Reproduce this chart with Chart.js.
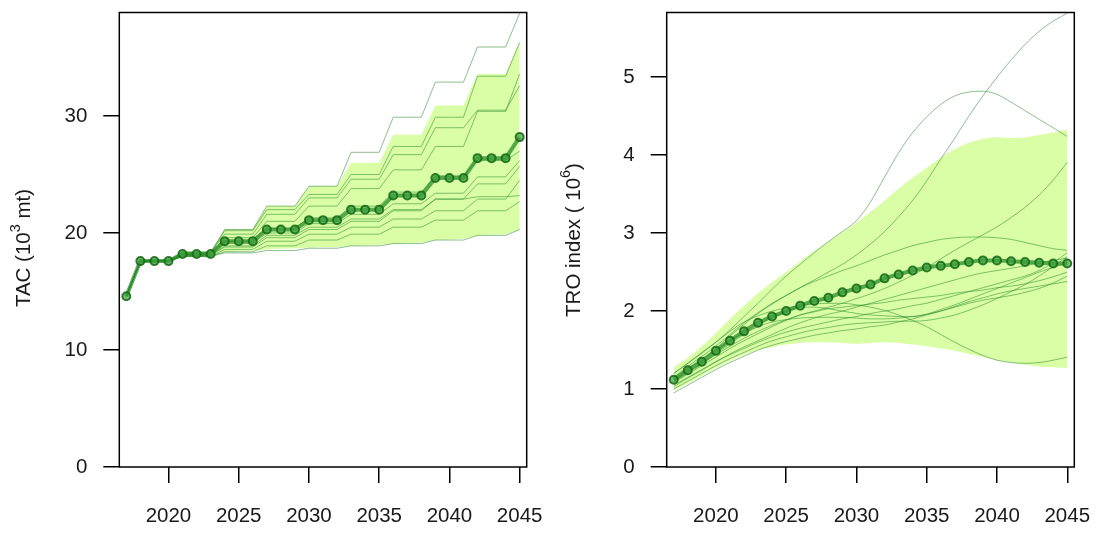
<!DOCTYPE html>
<html>
<head>
  <title>TAC and TRO index projections</title>
  <script src="https://cdn.jsdelivr.net/npm/chart.js"></script>
  <style>
    body { margin: 0; background: #fff; }
    .wrap { display: flex; width: 1100px; height: 534px; }
    .panel { position: relative; width: 550px; height: 534px; }
  </style>
</head>
<body>
  <div class="wrap">
    <div class="panel"><canvas id="tacChart"></canvas></div>
    <div class="panel"><canvas id="troChart"></canvas></div>
  </div>

  <script>
    const years = [2017, 2018, 2019, 2020, 2021, 2022, 2023, 2024, 2025, 2026,
                   2027, 2028, 2029, 2030, 2031, 2032, 2033, 2034, 2035, 2036,
                   2037, 2038, 2039, 2040, 2041, 2042, 2043, 2044, 2045];
    const xTicks = [2020, 2025, 2030, 2035, 2040, 2045];

    // left panel: TAC (10^3 mt)
    const tacTicks = [0, 10, 20, 30];
    const tacMedian = [14.6, 17.6, 17.6, 17.6, 18.2, 18.2, 18.2, 19.3, 19.3, 19.3, 20.3, 20.3, 20.3, 21.1, 21.1, 21.1, 22.0, 22.0, 22.0, 23.2, 23.2, 23.2, 24.7, 24.7, 24.7, 26.4, 26.4, 26.4, 28.2];
    const tacUpper = [14.6, 17.6, 17.6, 17.6, 18.4, 18.4, 18.4, 20.3, 20.3, 20.3, 22.3, 22.3, 22.3, 24.0, 24.0, 24.0, 26.0, 26.0, 26.0, 28.4, 28.4, 28.4, 30.9, 30.9, 30.9, 33.6, 33.6, 33.6, 36.35];
    const tacLower = [14.6, 17.6, 17.6, 17.6, 18.0, 18.0, 18.0, 18.4, 18.45, 18.5, 18.6, 18.65, 18.7, 18.75, 18.8, 18.8, 18.9, 18.95, 19.0, 19.1, 19.15, 19.2, 19.4, 19.45, 19.5, 19.8, 19.85, 19.9, 20.3];
    const tacSims = [
      [14.6, 17.6, 17.6, 17.6, 18.2, 18.2, 18.2, 20.3, 20.3, 20.3, 22.3, 22.3, 22.3, 24.0, 24.0, 24.0, 26.9, 26.9, 26.9, 29.9, 29.9, 29.9, 32.9, 32.9, 32.9, 35.9, 35.9, 35.9, 38.8],
      [14.6, 17.6, 17.6, 17.6, 18.4, 18.4, 18.4, 20.2, 20.2, 20.2, 22.0, 22.0, 22.0, 23.3, 23.3, 23.3, 25.0, 25.0, 25.0, 27.4, 27.4, 27.4, 29.9, 29.9, 29.9, 33.4, 33.4, 33.4, 36.3],
      [14.6, 17.6, 17.6, 17.6, 18.3, 18.3, 18.3, 19.9, 19.9, 19.9, 21.6, 21.6, 21.6, 23.0, 23.0, 23.0, 24.6, 24.6, 24.6, 26.7, 26.7, 26.7, 29.0, 29.0, 29.0, 30.5, 30.5, 30.5, 32.6],
      [14.6, 17.6, 17.6, 17.6, 18.2, 18.2, 18.2, 19.6, 19.6, 19.6, 21.0, 21.0, 21.0, 22.3, 22.3, 22.3, 23.8, 23.8, 23.8, 25.4, 25.4, 25.4, 27.4, 27.4, 27.4, 30.4, 30.4, 30.4, 33.6],
      [14.6, 17.6, 17.6, 17.6, 18.2, 18.2, 18.2, 19.3, 19.3, 19.3, 20.4, 20.4, 20.4, 21.3, 21.3, 21.3, 22.3, 22.3, 22.3, 23.5, 23.5, 23.5, 24.9, 24.9, 24.9, 26.2, 26.2, 26.2, 27.0],
      [14.6, 17.6, 17.6, 17.6, 18.2, 18.2, 18.2, 19.1, 19.1, 19.1, 20.0, 20.0, 20.0, 20.8, 20.8, 20.8, 21.6, 21.6, 21.6, 22.5, 22.5, 22.5, 23.4, 23.4, 23.4, 24.8, 24.8, 24.8, 26.2],
      [14.6, 17.6, 17.6, 17.6, 18.1, 18.1, 18.1, 18.9, 18.9, 18.9, 19.8, 19.8, 19.8, 20.5, 20.5, 20.5, 21.2, 21.2, 21.2, 22.0, 22.0, 22.0, 22.9, 22.9, 22.9, 24.2, 24.2, 24.2, 25.7],
      [14.6, 17.6, 17.6, 17.6, 18.1, 18.1, 18.1, 18.8, 18.8, 18.8, 19.6, 19.6, 19.6, 20.3, 20.3, 20.3, 21.0, 21.0, 21.0, 21.9, 21.9, 21.9, 22.9, 22.9, 22.9, 23.1, 23.1, 23.1, 23.2],
      [14.6, 17.6, 17.6, 17.6, 18.0, 18.0, 18.0, 18.6, 18.6, 18.6, 19.3, 19.3, 19.3, 19.9, 19.9, 19.9, 20.5, 20.5, 20.5, 21.2, 21.2, 21.2, 21.9, 21.9, 21.9, 22.9, 22.9, 22.9, 24.5],
      [14.6, 17.6, 17.6, 17.6, 18.0, 18.0, 18.0, 18.4, 18.4, 18.4, 18.9, 18.9, 18.9, 19.4, 19.4, 19.4, 19.9, 19.9, 19.9, 20.5, 20.5, 20.5, 21.1, 21.1, 21.1, 21.9, 21.9, 21.9, 22.7],
      [14.6, 17.6, 17.6, 17.6, 18.0, 18.0, 18.0, 18.3, 18.3, 18.3, 18.5, 18.5, 18.5, 18.7, 18.7, 18.7, 18.9, 18.9, 18.9, 19.1, 19.1, 19.1, 19.4, 19.4, 19.4, 19.8, 19.8, 19.8, 20.3]
    ];

    // right panel: TRO index (10^6)
    const troTicks = [0, 1, 2, 3, 4, 5];
    const troMedian = [1.12, 1.24, 1.35, 1.49, 1.62, 1.74, 1.85, 1.93, 2.00, 2.07, 2.13, 2.17, 2.24, 2.29, 2.34, 2.42, 2.47, 2.52, 2.56, 2.58, 2.60, 2.63, 2.65, 2.65, 2.64, 2.63, 2.62, 2.61, 2.61];
    const troUpper = [1.28, 1.40, 1.55, 1.72, 1.90, 2.07, 2.23, 2.37, 2.50, 2.64, 2.77, 2.89, 3.01, 3.13, 3.27, 3.42, 3.57, 3.71, 3.84, 3.97, 4.08, 4.16, 4.21, 4.23, 4.22, 4.23, 4.26, 4.29, 4.33];
    const troLower = [0.98, 1.07, 1.17, 1.27, 1.36, 1.44, 1.50, 1.54, 1.57, 1.59, 1.60, 1.60, 1.59, 1.58, 1.59, 1.60, 1.59, 1.57, 1.55, 1.52, 1.49, 1.45, 1.41, 1.37, 1.34, 1.31, 1.29, 1.28, 1.27];
    const troSims = [
      [1.20, 1.33, 1.46, 1.60, 1.76, 1.93, 2.10, 2.28, 2.45, 2.60, 2.75, 2.89, 3.02, 3.16, 3.40, 3.72, 4.03, 4.29, 4.49, 4.65, 4.76, 4.81, 4.82, 4.78, 4.68, 4.57, 4.46, 4.35, 4.24],
      [1.15, 1.27, 1.39, 1.52, 1.68, 1.83, 1.97, 2.09, 2.20, 2.30, 2.40, 2.50, 2.60, 2.72, 2.86, 3.02, 3.21, 3.42, 3.67, 3.95, 4.22, 4.50, 4.76, 5.00, 5.22, 5.42, 5.59, 5.72, 5.82],
      [1.10, 1.20, 1.32, 1.44, 1.55, 1.65, 1.74, 1.82, 1.89, 1.95, 2.00, 2.05, 2.10, 2.16, 2.22, 2.29, 2.37, 2.46, 2.56, 2.67, 2.78, 2.88, 2.98, 3.08, 3.20, 3.33, 3.49, 3.68, 3.91],
      [1.15, 1.29, 1.42, 1.55, 1.70, 1.85, 1.98, 2.10, 2.20, 2.30, 2.38, 2.45, 2.52, 2.58, 2.65, 2.72, 2.78, 2.84, 2.88, 2.92, 2.94, 2.95, 2.95, 2.94, 2.92, 2.88, 2.84, 2.80, 2.78],
      [1.20, 1.33, 1.47, 1.60, 1.74, 1.86, 1.94, 2.00, 2.04, 2.07, 2.09, 2.10, 2.10, 2.08, 2.05, 2.01, 1.95, 1.88, 1.80, 1.70, 1.60, 1.51, 1.43, 1.37, 1.34, 1.33, 1.34, 1.37, 1.41],
      [1.05, 1.15, 1.25, 1.35, 1.44, 1.52, 1.60, 1.67, 1.73, 1.78, 1.82, 1.86, 1.90, 1.93, 1.97, 2.00, 2.03, 2.07, 2.10, 2.15, 2.20, 2.25, 2.30, 2.35, 2.40, 2.45, 2.52, 2.62, 2.75],
      [1.00, 1.10, 1.20, 1.30, 1.39, 1.47, 1.55, 1.62, 1.67, 1.72, 1.76, 1.79, 1.82, 1.84, 1.85, 1.86, 1.87, 1.87, 1.88, 1.91, 1.95, 2.01, 2.08, 2.16, 2.25, 2.34, 2.45, 2.57, 2.70],
      [1.08, 1.19, 1.30, 1.41, 1.52, 1.62, 1.71, 1.80, 1.88, 1.95, 1.99, 2.03, 2.05, 2.07, 2.09, 2.11, 2.14, 2.16, 2.18, 2.20, 2.23, 2.25, 2.27, 2.30, 2.32, 2.35, 2.39, 2.44, 2.50],
      [1.10, 1.22, 1.33, 1.45, 1.58, 1.70, 1.81, 1.92, 2.00, 2.05, 2.05, 2.03, 2.00, 1.97, 1.95, 1.94, 1.93, 1.93, 1.96, 2.00, 2.06, 2.12, 2.17, 2.22, 2.26, 2.29, 2.32, 2.35, 2.38],
      [1.12, 1.25, 1.38, 1.50, 1.62, 1.72, 1.80, 1.86, 1.89, 1.91, 1.92, 1.92, 1.92, 1.91, 1.90, 1.90, 1.91, 1.93, 1.96, 2.02, 2.08, 2.15, 2.22, 2.29, 2.36, 2.43, 2.50, 2.56, 2.62],
      [0.95, 1.05, 1.15, 1.25, 1.34, 1.42, 1.50, 1.56, 1.61, 1.65, 1.69, 1.72, 1.75, 1.77, 1.80, 1.82, 1.86, 1.90, 1.95, 2.00, 2.05, 2.10, 2.14, 2.17, 2.20, 2.24, 2.29, 2.36, 2.45],
      [1.03, 1.14, 1.24, 1.35, 1.45, 1.54, 1.62, 1.70, 1.78, 1.85, 1.91, 1.96, 2.00, 2.05, 2.10, 2.15, 2.20, 2.25, 2.30, 2.35, 2.40, 2.45, 2.49, 2.52, 2.55, 2.58, 2.62, 2.65, 2.68]
    ];

    const FONT = '"Liberation Sans", Arial, sans-serif';
    const INK = '#1a1a1a';
    const BAND = 'rgb(218, 254, 166)';
    const SIM = 'rgba(45, 140, 45, 0.55)';

    const toXY = arr => arr.map((v, i) => ({ x: years[i], y: v }));

    // box round the plot area
    const frame = {
      id: 'frame',
      afterDatasetsDraw(chart) {
        const { ctx, chartArea: a } = chart;
        ctx.save();
        ctx.strokeStyle = '#000';
        ctx.lineWidth = 1.5;
        ctx.strokeRect(a.left, a.top, a.right - a.left, a.bottom - a.top);
        ctx.restore();
      }
    };

    // rotated y title with a superscript part
    const axisTitle = {
      id: 'axisTitle',
      afterDraw(chart, args, opts) {
        const ctx = chart.ctx;
        const big = '20.5px ' + FONT;
        const small = '14.5px ' + FONT;
        ctx.save();
        ctx.translate(opts.x, opts.y);
        ctx.rotate(-Math.PI / 2);
        ctx.fillStyle = INK;
        ctx.textBaseline = 'middle';
        ctx.textAlign = 'left';
        ctx.font = big;
        const w1 = ctx.measureText(opts.before).width;
        const w3 = ctx.measureText(opts.after).width;
        ctx.font = small;
        const w2 = ctx.measureText(opts.sup).width;
        let x = -(w1 + w2 + w3) / 2;
        ctx.font = big;
        ctx.fillText(opts.before, x, 0);
        x += w1;
        ctx.font = small;
        ctx.fillText(opts.sup, x, -8);
        x += w2;
        ctx.font = big;
        ctx.fillText(opts.after, x, 0);
        ctx.restore();
      }
    };

    const createChart = (ctx, c) => {
      const lineOpts = {
        pointRadius: 0,
        fill: false,
        tension: c.smooth ? 0.4 : 0,
        cubicInterpolationMode: c.smooth ? 'monotone' : 'default'
      };
      const datasets = [
        { ...lineOpts, data: toXY(c.upper), fill: '+1', backgroundColor: BAND, borderColor: 'rgba(0,0,0,0)', borderWidth: 1, order: 30 },
        { ...lineOpts, data: toXY(c.lower), borderColor: 'rgba(0,0,0,0)', borderWidth: 1, order: 30 },
        ...c.sims.map(s => ({ ...lineOpts, data: toXY(s), borderColor: SIM, borderWidth: 1, order: 20 })),
        {
          ...lineOpts,
          data: toXY(c.median),
          borderColor: 'rgba(40, 140, 40, 0.75)',
          borderWidth: 4,
          pointRadius: 4,
          pointBorderWidth: 2,
          pointBackgroundColor: 'rgba(60, 160, 60, 0.7)',
          pointBorderColor: 'rgba(20, 105, 20, 0.85)',
          order: 1
        }
      ];

      return new Chart(ctx, {
        type: 'line',
        data: { datasets },
        options: {
          animation: false,
          responsive: true,
          maintainAspectRatio: false,
          events: [],
          layout: { padding: { left: 0, top: 12.5, right: c.padRight, bottom: 0 } },
          plugins: {
            legend: { display: false },
            tooltip: { enabled: false },
            axisTitle: c.title
          },
          scales: {
            x: {
              type: 'linear',
              min: 2016.5,
              max: 2045.5,
              afterBuildTicks: s => { s.ticks = xTicks.map(v => ({ value: v })); },
              afterFit: s => { s.height = 67; s.paddingLeft = 0; s.paddingRight = 0; },
              border: { display: false },
              grid: { drawOnChartArea: false, drawTicks: true, tickLength: 16, color: '#000', lineWidth: 1.5 },
              ticks: { font: { family: FONT, size: 20.5 }, color: INK, padding: 21, maxRotation: 0, autoSkip: false, callback: v => String(v) }
            },
            y: {
              type: 'linear',
              min: 0,
              max: c.yMax,
              afterBuildTicks: s => { s.ticks = c.yTicks.map(v => ({ value: v })); },
              afterFit: s => { s.width = c.yWidth; s.paddingTop = 0; s.paddingBottom = 0; },
              border: { display: false },
              grid: { drawOnChartArea: false, drawTicks: true, tickLength: 16, color: '#000', lineWidth: 1.5 },
              ticks: { font: { family: FONT, size: 20.5 }, color: INK, padding: 16, callback: v => String(v) }
            }
          }
        },
        plugins: [frame, axisTitle]
      });
    };

    createChart(document.getElementById('tacChart'), {
      median: tacMedian, upper: tacUpper, lower: tacLower, sims: tacSims,
      yMax: 38.85, yTicks: tacTicks, yWidth: 119.3, padRight: 23.3, smooth: false,
      title: { x: 24, y: 248, before: 'TAC (10', sup: '3', after: ' mt)' }
    });

    createChart(document.getElementById('troChart'), {
      median: troMedian, upper: troUpper, lower: troLower, sims: troSims,
      yMax: 5.83, yTicks: troTicks, yWidth: 116.7, padRight: 25.7, smooth: true,
      title: { x: 24, y: 240, before: 'TRO index ( 10', sup: '6', after: ')' }
    });
  </script>
</body>
</html>
